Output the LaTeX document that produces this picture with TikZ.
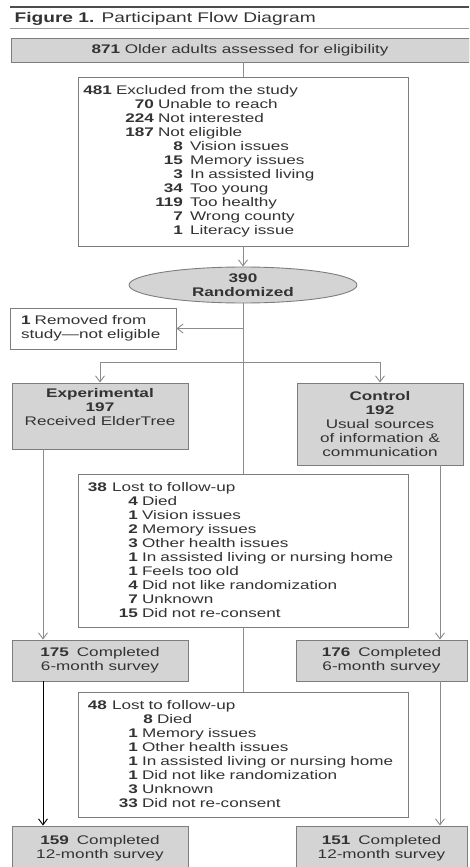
\documentclass[tikz,border=0pt]{standalone}
\usepackage{fontspec}
\setmainfont{Liberation Sans}[FakeStretch=1.37]
\usetikzlibrary{shapes.geometric,arrows.meta}
\definecolor{boxgray}{RGB}{212,212,212}
\definecolor{edgegray}{RGB}{125,125,125}
\definecolor{linegray}{RGB}{140,140,140}
\setlength{\parindent}{0pt}
\newcommand{\cnt}[3][4pt]{\makebox[#2][r]{\textbf{#3}}\hspace{#1}}
\begin{document}
\begin{tikzpicture}[x=1pt,y=-1pt,
  every node/.style={font=\fontsize{12.5}{14}\selectfont,text=black!80},
  graybox/.style={draw=edgegray,fill=boxgray,line width=0.9pt,inner sep=0pt,align=center},
  listbox/.style={draw=edgegray,fill=white,line width=0.9pt,inner sep=0pt,align=left,text width=#1},
  link/.style={draw=linegray,line width=0.9pt},
  arr/.style={link,-{Straight Barb[length=6pt,width=9pt]}}]
\clip (0,0) rectangle (469,867);
\draw[line width=2.4pt,black!70] (10,7) -- (469,7);
\node[anchor=base west,font=\fontsize{14}{16}\selectfont] (title) at (11,23) {\textbf{Figure 1.} Participant Flow Diagram};
\draw[line width=0.8pt,black!40] (10,28) -- (469,28);
\node[graybox,minimum width=458pt,minimum height=24pt] (assess) at (240,50) {\textbf{871} Older adults assessed for eligibility};
\node[listbox=330pt,minimum height=169pt] (excl) at (243,161.5) {\cnt{34pt}{481}Excluded from the study\\
  \cnt{76pt}{70}Unable to reach\\
  \cnt{76pt}{224}Not interested\\
  \cnt{76pt}{187}Not eligible\\
  \cnt[7pt]{105pt}{8}Vision issues\\
  \cnt[7pt]{105pt}{15}Memory issues\\
  \cnt[7pt]{105pt}{3}In assisted living\\
  \cnt[7pt]{105pt}{34}Too young\\
  \cnt[7pt]{105pt}{119}Too healthy\\
  \cnt[7pt]{105pt}{7}Wrong county\\
  \cnt[7pt]{105pt}{1}Literacy issue};
\node[ellipse,graybox,minimum width=228pt,minimum height=36pt] (rand) at (243,285) {\textbf{390}\\\textbf{Randomized}};
\node[listbox=144pt,inner xsep=11pt,minimum height=41pt] (removed) at (93,328.5) {\textbf{1} Removed from\\study---not eligible};
\node[graybox,minimum width=176pt,minimum height=66pt] (exp) at (100,416) {\textbf{Experimental}\\\textbf{197}\\Received ElderTree\\\strut};
\node[graybox,minimum width=166pt,minimum height=82pt] (ctrl) at (380,424) {\textbf{Control}\\\textbf{192}\\Usual sources\\of information \&\\communication};
\node[listbox=330pt,minimum height=153pt] (lost1) at (243,550.5) {\cnt[5pt]{29pt}{38}Lost to follow-up\\
  \cnt{60pt}{4}Died\\
  \cnt{60pt}{1}Vision issues\\
  \cnt{60pt}{2}Memory issues\\
  \cnt{60pt}{3}Other health issues\\
  \cnt{60pt}{1}In assisted living or nursing home\\
  \cnt{60pt}{1}Feels too old\\
  \cnt{60pt}{4}Did not like randomization\\
  \cnt{60pt}{7}Unknown\\
  \cnt{60pt}{15}Did not re-consent};
\node[graybox,minimum width=176pt,minimum height=41pt] (six1) at (100,660.5) {\textbf{175}\hspace{8pt}Completed\\6-month survey};
\node[graybox,minimum width=171pt,minimum height=41pt] (six2) at (381.5,660.5) {\textbf{176}\hspace{8pt}Completed\\6-month survey};
\node[listbox=330pt,minimum height=125pt] (lost2) at (243,754.5) {\cnt[5pt]{29pt}{48}Lost to follow-up\\
  \cnt{75pt}{8}Died\\
  \cnt{60pt}{1}Memory issues\\
  \cnt{60pt}{1}Other health issues\\
  \cnt{60pt}{1}In assisted living or nursing home\\
  \cnt{60pt}{1}Did not like randomization\\
  \cnt{60pt}{3}Unknown\\
  \cnt{60pt}{33}Did not re-consent};
\node[graybox,minimum width=176pt,minimum height=44pt] (twelve1) at (100,848) {\textbf{159}\hspace{8pt}Completed\\12-month survey};
\node[graybox,minimum width=171pt,minimum height=44pt] (twelve2) at (381.5,848) {\textbf{151}\hspace{8pt}Completed\\12-month survey};
\coordinate (lcol) at (43,0);\coordinate (rcol) at (440,0);\coordinate (split) at (243,362);
\draw[link] (assess.south -| excl.north) -- (excl.north);
\draw[arr] (excl.south) -- (rand.north);
\draw[link] (rand.south) -- (lost1.north);
\draw[arr] (removed.east -| rand.south) -- (removed.east);
\draw[link] (exp.north |- split) -- (ctrl.north |- split);
\draw[arr] (exp.north |- split) -- (exp.north);\draw[arr] (ctrl.north |- split) -- (ctrl.north);
\draw[arr] (lcol |- exp.south) -- (lcol |- six1.north);\draw[arr] (rcol |- ctrl.south) -- (rcol |- six2.north);
\draw[link] (lost1.south) -- (lost2.north);
\draw[arr,draw=black] (lcol |- six1.south) -- (lcol |- twelve1.north);\draw[arr] (rcol |- six2.south) -- (rcol |- twelve2.north);
\end{tikzpicture}
\end{document}
